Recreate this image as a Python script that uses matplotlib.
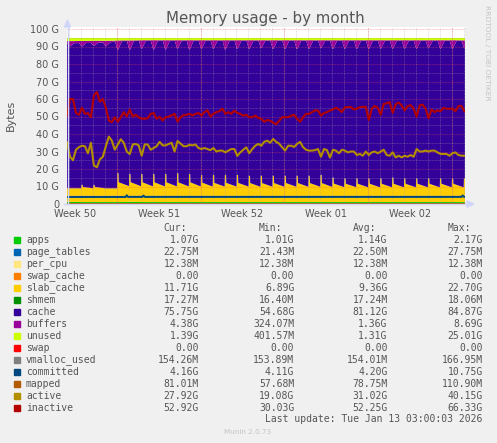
import numpy as np
import matplotlib.pyplot as plt
from matplotlib.lines import Line2D
from matplotlib.patches import Polygon, Rectangle

W, H = 497, 443

# time axis: days since the left edge of the graph, weeks start on Monday
t_end = 33.3
week_starts = [4.18, 11.18, 18.18, 25.18, 32.18]
week_labels = ['Week 50', 'Week 51', 'Week 52', 'Week 01', 'Week 02']

# total RAM (top of the stack), in G
mem_total = 94.9

# per-day values (one per night; spikes happen around 01:40)
slab_peak = [7.8, 9.8, 9.8, 7.8, 16.5, 16.0, 16.0, 16.0, 16.0, 16.5, 16.0, 15.5,
             15.5, 15.5, 15.5, 15.0, 15.0, 15.0, 15.0, 15.0, 15.0, 15.5, 14.0, 13.5,
             13.5, 13.5, 13.5, 14.0, 13.5, 13.5, 13.5, 13.5, 13.5, 13.5]
slab_after = [7.8, 8.6, 8.6, 7.8, 11.3, 11.2, 11.2, 11.2, 11.2, 11.2, 11.2, 11.0,
              10.9, 10.9, 10.9, 10.8, 10.8, 10.8, 10.8, 10.8, 10.8, 10.8, 10.5, 10.4,
              10.4, 10.4, 10.4, 10.4, 10.4, 10.4, 10.4, 10.4, 10.4, 10.6]
slab_base = [7.8, 7.8, 7.8, 7.8, 9.0, 9.0, 8.9, 8.9, 8.9, 8.9, 8.9, 8.8,
             8.8, 8.8, 8.8, 8.7, 8.7, 8.7, 8.7, 8.7, 8.7, 8.6, 8.5, 8.5,
             8.4, 8.4, 8.4, 8.4, 8.4, 8.4, 8.4, 8.4, 8.4, 8.4]
buf_peak = [3.0, 3.2, 3.0, 3.2, 5.5, 5.5, 5.0, 5.5, 5.5, 5.0, 5.5, 5.0,
            5.0, 5.5, 5.0, 5.0, 4.5, 5.0, 5.0, 5.0, 5.0, 4.5, 5.0, 5.0,
            5.0, 5.0, 5.0, 5.0, 5.0, 5.0, 4.5, 5.0, 5.0, 4.4]
buf_floor = [1.2, 1.2, 1.2, 1.0, 0.4, 0.4, 0.4, 0.4, 0.4, 0.4, 0.4, 0.4,
             0.4, 0.4, 0.4, 0.4, 0.4, 0.4, 0.4, 0.4, 0.4, 0.4, 0.4, 0.4,
             0.4, 0.4, 0.4, 0.4, 0.4, 0.4, 0.4, 0.4, 0.4, 0.4]
unused_day = [1.8, 1.7, 1.6, 1.6, 1.4, 1.4, 1.3, 1.3, 1.3, 1.3, 1.3, 1.3,
              1.3, 1.3, 1.3, 1.3, 1.3, 1.3, 1.3, 1.3, 1.3, 1.3, 1.3, 1.3,
              1.3, 1.3, 1.3, 1.3, 1.3, 1.3, 1.3, 1.3, 1.3, 1.4]
apps_day = [1.15, 1.1, 1.1, 1.1, 1.1, 1.2, 1.1, 1.1, 1.1, 1.1, 1.1, 1.1,
            1.1, 1.1, 1.1, 1.1, 1.1, 1.1, 1.1, 1.1, 1.1, 1.1, 1.1, 1.1,
            1.1, 1.1, 1.1, 1.1, 1.1, 1.1, 1.1, 1.1, 1.1, 1.07]
page_tables = 0.023
per_cpu = 0.012
swap_cache = 0.0
shmem = 0.017

# lines, sampled every 6 hours
inactive = [50.6, 60, 60, 52, 51, 55, 51.5, 52, 49.6, 62, 64, 58.5,
            60, 55, 47.7, 46.7, 49.6, 47, 49.6, 52.5, 50, 54, 50, 51,
            49.6, 48.7, 48.7, 49, 51.5, 52, 48.7, 49.8, 47.7, 49.6, 50, 50.6,
            51.5, 47, 49.6, 50.8, 51, 51.5, 50.6, 51.5, 52, 50.5, 52.5, 53.5,
            50, 51.5, 52.5, 53, 54.5, 51.5, 52.5, 51.5, 53.4, 52, 51.5, 50.5,
            51, 49.6, 49.6, 50.5, 49.2, 48.7, 47, 48, 47.5, 46.5, 45.5, 47.5,
            49.6, 49.6, 49.6, 50.5, 51, 48.7, 47, 49.6, 51.5, 51.5, 52.5, 53.5,
            53.4, 50.5, 52, 52.5, 53.4, 54, 55, 54,
            52.5, 55.3, 55.3, 55.5, 54, 54.5, 55.3, 55.5, 55.5, 48, 54.5, 56,
            55, 51, 57.2, 57.5, 58.2, 52, 57, 58, 56.3, 53.4, 56, 56.5,
            54.5, 50, 56.3, 56.8, 54.5, 49, 54, 52.5, 53.5, 53, 55, 54.4,
            54.4, 54.5, 53, 56, 56, 53]
active = [35.2, 27, 25, 31, 32.5, 33.3, 33, 29, 35, 22, 21, 25.5,
          27, 33, 38.5, 36.2, 31, 34, 37, 35, 30, 28.5, 34, 34.3,
          33.5, 27.6, 34, 34, 31, 32, 33, 35.5, 33.5, 33.5, 34.3, 35,
          30, 36, 34.5, 33, 33, 33.8, 33.5, 34, 32, 31.4, 32, 31.4,
          30.8, 32, 30, 30.5, 30.5, 29.5, 30.5, 31.4, 31.4, 27.5, 29.5, 31,
          32.4, 29, 31.4, 33.3, 34.3, 33.3, 35.5, 36.2, 35, 37.2, 35.5, 34.5,
          32.4, 30.5, 33.3, 33.3, 32.6, 34.3, 35.5, 32.5, 31, 30.5, 30.5, 30.8,
          31.4, 27, 31.4, 30.8, 26.5, 31, 30.5, 29,
          31, 30.5, 29.5, 30, 30, 28, 28.6, 27.6, 30, 28, 29.5, 30,
          29, 30, 31, 28, 27.6, 29.5, 26.6, 27.6, 26.6, 27.6, 27, 28,
          27, 31.4, 30, 30, 30.5, 30, 30.5, 30.5, 29.5, 28.6, 28.6, 28.6,
          27.6, 29, 29.5, 28, 27.6, 27.6]
committed_t = [0, 4.9, 5.0, 5.1, 6.3, 6.4, 6.5, 33.0, 33.1, 33.2, 33.3]
committed_v = [4.0, 4.0, 5.0, 4.05, 4.05, 4.8, 4.05, 4.05, 4.9, 4.1, 4.1]
vmalloc_used = 0.154
mapped = 0.081

# legend table
names = ['apps', 'page_tables', 'per_cpu', 'swap_cache', 'slab_cache', 'shmem',
         'cache', 'buffers', 'unused', 'swap', 'vmalloc_used', 'committed',
         'mapped', 'active', 'inactive']
colors = ['#00CC00', '#0066B3', '#FFE680', '#FF8000', '#FFCC00', '#008F00',
          '#330099', '#990099', '#CCFF00', '#FF0000', '#808080', '#00487D',
          '#B35A00', '#B38F00', '#B30000']
cur = ['1.07G', '22.75M', '12.38M', '0.00', '11.71G', '17.27M', '75.75G', '4.38G',
       '1.39G', '0.00', '154.26M', '4.16G', '81.01M', '27.92G', '52.92G']
mins = ['1.01G', '21.43M', '12.38M', '0.00', '6.89G', '16.40M', '54.68G', '324.07M',
        '401.57M', '0.00', '153.89M', '4.11G', '57.68M', '19.08G', '30.03G']
avgs = ['1.14G', '22.50M', '12.38M', '0.00', '9.36G', '17.24M', '81.12G', '1.36G',
        '1.31G', '0.00', '154.01M', '4.20G', '78.75M', '31.02G', '52.25G']
maxs = ['2.17G', '27.75M', '12.38M', '0.00', '22.70G', '18.06M', '84.87G', '8.69G',
        '25.01G', '0.00', '166.95M', '10.75G', '110.90M', '40.15G', '66.33G']

# build the nightly sawtooth series
slab_t, slab_v, buf_t, buf_v = [0.0], [slab_base[0]], [0.0], [buf_floor[0]]
for k in range(len(slab_peak)):
    prev = slab_base[k - 1] if k else slab_base[0]
    slab_t += [k + 0.19, k + 0.21, k + 0.31, k + 0.33]
    slab_v += [prev, slab_peak[k], slab_peak[k], slab_after[k]]
    buf_t += [k + 0.02, k + 0.22, k + 0.26, k + 0.6]
    buf_v += [buf_floor[k], buf_peak[k], buf_peak[k], buf_floor[k]]
slab_t.append(t_end); slab_v.append(slab_after[-1])
buf_t = [t for t in buf_t if t <= t_end] + [t_end]
buf_v = buf_v[:len(buf_t) - 1] + [buf_peak[-1]]

day_mid = np.arange(len(apps_day)) + 0.5
t = np.union1d(np.union1d(slab_t, buf_t), np.linspace(0, t_end, 400))
slab = np.interp(t, slab_t, slab_v)
buffers = np.interp(t, buf_t, buf_v)
unused = np.interp(t, day_mid, unused_day)
apps = np.interp(t, day_mid, apps_day)
small = np.full_like(t, page_tables + per_cpu + swap_cache + shmem)
cache = mem_total - apps - small - slab - buffers - unused

fig = plt.figure(figsize=(W / 100, H / 100), dpi=100, facecolor='#F0F0F0')
ax = fig.add_axes([67 / W, 1 - 204 / H, 398 / W, 177 / H])
ax.set_facecolor('white')
for s in ax.spines.values():
    s.set_visible(False)

stack = [apps, np.full_like(t, page_tables), np.full_like(t, per_cpu),
         np.full_like(t, swap_cache), slab, np.full_like(t, shmem),
         cache, buffers, unused]
ax.stackplot(t, *stack, colors=colors[:9], linewidth=0, zorder=1)

# grid: minor dotted grey, major dotted red
minor_c = (0.65, 0.65, 0.65, 0.4)
major_c = (1.0, 0.3, 0.3, 0.4)
dots = (0, (0.72, 0.72))
for d in np.arange(week_starts[0] - 4, t_end, 1.0):
    if d > 0:
        ax.axvline(d, color=minor_c, lw=0.72, ls=dots, zorder=2)
for d in week_starts:
    ax.axvline(d, color=major_c, lw=0.72, ls=dots, zorder=2)
for g in range(5, 100, 10):
    ax.axhline(g, color=minor_c, lw=0.72, ls=dots, zorder=2)
for g in range(10, 101, 10):
    ax.axhline(g, color=major_c, lw=0.72, ls=dots, zorder=2)

t_line = np.arange(len(inactive)) * 0.25
ax.plot([0, t_end], [vmalloc_used] * 2, color=colors[10], lw=1.4, zorder=3)
ax.plot(committed_t, committed_v, color=colors[11], lw=1.4, zorder=3)
ax.plot([0, t_end], [mapped] * 2, color=colors[12], lw=1.4, zorder=3)
ax.plot(t_line, active, color=colors[13], lw=1.5, zorder=3)
ax.plot(t_line, inactive, color=colors[14], lw=1.5, zorder=3)

ax.set_xlim(0, t_end)
ax.set_ylim(0, 100 + 2 / 1.75)
ax.set_xticks([w - 3.5 for w in week_starts])
ax.set_xticklabels(week_labels)
ax.set_yticks(range(0, 101, 10))
ax.set_yticklabels(['0'] + ['%d G' % g for g in range(10, 101, 10)])
ax.tick_params(length=0, labelsize=7, colors='#555555')
ax.tick_params(axis='x', pad=3.5)
ax.tick_params(axis='y', pad=5.5)


def fx(x):
    return x / W


def fy(y):
    return 1 - y / H


# axes with arrows
axis_c = '#CFD6F8'
fig.add_artist(Line2D([fx(67.5), fx(67.5)], [fy(204), fy(24)], color=axis_c, lw=1))
fig.add_artist(Line2D([fx(64), fx(468)], [fy(204), fy(204)], color=axis_c, lw=1))
fig.add_artist(Polygon([(fx(64.5), fy(27)), (fx(70.5), fy(27)), (fx(67.5), fy(20))],
                       closed=True, color=axis_c, transform=fig.transFigure))
fig.add_artist(Polygon([(fx(467), fy(201)), (fx(467), fy(207)), (fx(474), fy(204))],
                       closed=True, color=axis_c, transform=fig.transFigure))

txt_c = '#555555'
fig.text(fx(265), fy(19), 'Memory usage - by month', ha='center', va='center',
         fontsize=10.8, color=txt_c)
fig.text(fx(11), fy(115), 'Bytes', ha='center', va='center', rotation=90,
         fontsize=8, color=txt_c)
fig.text(fx(487.5), fy(5), 'RRDTOOL / TOBI OETIKER', ha='center', va='top',
         rotation=270, fontsize=5.4, color='#c4c4c4')

mono = 'DejaVu Sans Mono'
col_right = [199, 294.3, 387.7, 482.7]
for x, head in zip(col_right, ['Cur:', 'Min:', 'Avg:', 'Max:']):
    fig.text(fx(x - 11.7), fy(228), head, ha='right', va='center',
             family=mono, fontsize=7, color=txt_c)
for i, name in enumerate(names):
    y = 240 + 12 * i
    fig.add_artist(Rectangle((fx(14), fy(y + 3)), 6 / W, 6 / H,
                             color=colors[i], transform=fig.transFigure))
    fig.text(fx(26), fy(y), name, ha='left', va='center', family=mono,
             fontsize=7, color=txt_c)
    for x, col in zip(col_right, [cur, mins, avgs, maxs]):
        fig.text(fx(x), fy(y), col[i], ha='right', va='center', family=mono,
                 fontsize=7, color=txt_c)
fig.text(fx(482.7), fy(419.5), 'Last update: Tue Jan 13 03:00:03 2026',
         ha='right', va='center', family=mono, fontsize=7, color=txt_c)
fig.text(fx(248), fy(432.5), 'Munin 2.0.73', ha='center', va='center',
         fontsize=5.2, color='#c4c4c4')

fig.savefig('out.png', dpi=100, facecolor=fig.get_facecolor())
